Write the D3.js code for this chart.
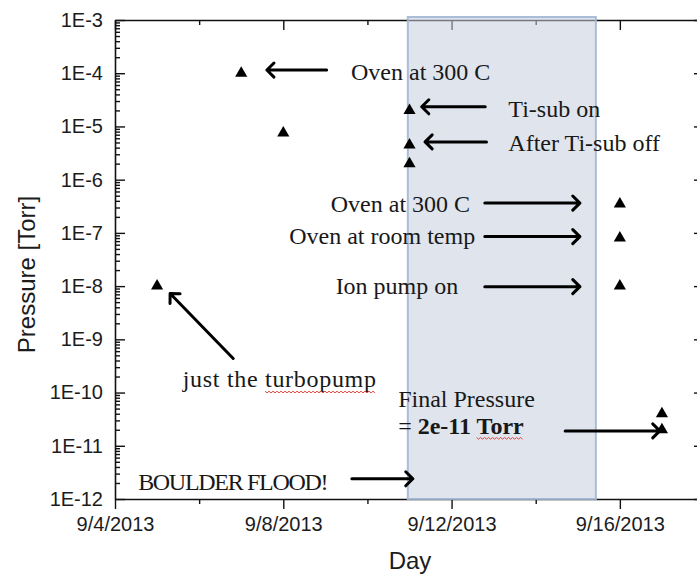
<!DOCTYPE html>
<html>
<head>
<meta charset="utf-8">
<script src="https://cdn.jsdelivr.net/npm/d3@7"></script>
<style>
  body { margin: 0; background: #fff; }
  svg { display: block; }
</style>
</head>
<body>
<svg id="chart" width="697" height="575"></svg>
<script>
// Pressure log, September 2013: day of month and reading in Torr
const measDays  = [5,    7,    8,      11,   11,     11,   16,     16,   16,   17,    17];
const pressures = [1e-8, 1e-4, 7.5e-6, 2e-5, 4.5e-6, 2e-6, 3.5e-7, 8e-8, 1e-8, 4e-11, 2e-11];

// Axis ticks
const xTickDays  = [4, 6, 8, 10, 12, 14, 16, 18];
const xLabelDays = [4, 8, 12, 16];
const yDecades   = [-12, -11, -10, -9, -8, -7, -6, -5, -4, -3];

// Bake-out window (day of month, fractional)
const bandDays = [10.96, 15.43];

// Notes: text, anchor point (day of month, log10 pressure), alignment
const noteTexts   = ["Oven at 300 C", "Ti-sub on", "After Ti-sub off", "Oven at 300 C",
                     "Oven at room temp", "Ion pump on", "just the turbopump",
                     "BOULDER FLOOD!", "Final Pressure"];
const noteDays    = [9.61, 13.35, 13.35, 12.44, 12.56, 12.16, 5.61, 4.55, 10.73];
const noteExps    = [-4.13, -4.82, -5.47, -6.60, -7.20, -8.15, -9.90, -11.83, -10.28];
const noteAnchors = ["start", "start", "start", "end", "end", "end", "start", "start", "start"];

// Arrows: tail and tip (day of month, log10 pressure)
const arrowFrom = [[9.03, -3.94], [12.80, -4.63], [12.83, -5.29], [12.79, -6.44], [12.79, -7.07],
                   [12.79, -8.01], [6.81, -9.36], [9.63, -11.62], [14.70, -10.72]];
const arrowTo   = [[7.61, -3.94], [11.29, -4.63], [11.37, -5.29], [15.05, -6.44], [15.05, -7.07],
                   [15.05, -8.01], [5.31, -8.14], [11.08, -11.62], [16.95, -10.72]];

const svg = d3.select("#chart");
const plotLeft = 115, plotTop = 20, plotRight = 704, plotBottom = 499;

const dayToDate = d => new Date(Date.UTC(2013, 8, 1) + (d - 1) * 864e5);

const x = d3.scaleUtc()
  .domain([dayToDate(4), dayToDate(18)])
  .range([plotLeft, plotRight]);
const y = d3.scaleLog()
  .domain([1e-12, 1e-3])
  .range([plotBottom, plotTop]);

const px = d => x(dayToDate(d));
const py = e => y(Math.pow(10, e));

const axisColor = "#111";
const labelFont = "'Liberation Sans', Arial, Helvetica, sans-serif";
const noteFont = "'Liberation Serif', 'Times New Roman', serif";

const majorY = yDecades.map(e => Math.pow(10, e));
const minorY = [];
yDecades.slice(0, -1).forEach(e => {
  for (let m = 2; m <= 9; m++) minorY.push(m * Math.pow(10, e));
});
const xMajor = xLabelDays.map(dayToDate);
const xMinor = xTickDays.filter(d => !xLabelDays.includes(d)).map(dayToDate);

function styleAxis(g, keepDomain) {
  g.selectAll("line").attr("stroke", axisColor).attr("stroke-width", 1.4);
  g.select(".domain").attr("stroke", axisColor).attr("stroke-width", 1.6);
  if (!keepDomain) g.select(".domain").remove();
  g.selectAll("text")
    .attr("fill", "#1c1c1c")
    .style("font-family", labelFont)
    .style("font-size", "20px");
}

// Left axis: decades labelled 1E-n, minor ticks at 2..9
svg.append("g").attr("transform", `translate(${plotLeft},0)`)
  .call(d3.axisLeft(y).tickValues(minorY).tickSize(-5).tickFormat(""))
  .call(g => styleAxis(g, false));
svg.append("g").attr("transform", `translate(${plotLeft},0)`)
  .call(d3.axisLeft(y).tickValues(majorY).tickSizeInner(-10).tickSizeOuter(0).tickPadding(12)
        .tickFormat(v => "1E" + Math.round(Math.log10(v))))
  .call(g => styleAxis(g, true));

// Right axis: ticks only
svg.append("g").attr("transform", `translate(${plotRight},0)`)
  .call(d3.axisRight(y).tickValues(minorY).tickSize(-5).tickFormat(""))
  .call(g => styleAxis(g, false));
svg.append("g").attr("transform", `translate(${plotRight},0)`)
  .call(d3.axisRight(y).tickValues(majorY).tickSizeInner(-10).tickSizeOuter(0).tickFormat(""))
  .call(g => styleAxis(g, true));

// Bottom axis: outward ticks, dates every four days
svg.append("g").attr("transform", `translate(0,${plotBottom})`)
  .call(d3.axisBottom(x).tickValues(xMinor).tickSize(5).tickFormat(""))
  .call(g => styleAxis(g, false));
svg.append("g").attr("transform", `translate(0,${plotBottom})`)
  .call(d3.axisBottom(x).tickValues(xMajor).tickSizeInner(10).tickSizeOuter(0).tickPadding(8)
        .tickFormat(d3.utcFormat("%-m/%-d/%Y")))
  .call(g => styleAxis(g, true));

// Top axis: inward ticks only
svg.append("g").attr("transform", `translate(0,${plotTop})`)
  .call(d3.axisTop(x).tickValues(xMinor).tickSize(-5).tickFormat(""))
  .call(g => styleAxis(g, false));
svg.append("g").attr("transform", `translate(0,${plotTop})`)
  .call(d3.axisTop(x).tickValues(xMajor).tickSizeInner(-10).tickSizeOuter(0).tickFormat(""))
  .call(g => styleAxis(g, true));

// Axis titles
svg.append("text")
  .attr("transform", `translate(35,${(plotTop + plotBottom) / 2 + 15}) rotate(-90)`)
  .attr("text-anchor", "middle")
  .attr("fill", "#1c1c1c")
  .style("font-family", labelFont)
  .style("font-size", "24px")
  .text("Pressure [Torr]");
svg.append("text")
  .attr("x", 410).attr("y", 569)
  .attr("text-anchor", "middle")
  .attr("fill", "#1c1c1c")
  .style("font-family", labelFont)
  .style("font-size", "24px")
  .text("Day");

// Shaded bake-out window over the frame
svg.append("rect")
  .attr("x", px(bandDays[0]))
  .attr("y", plotTop - 3)
  .attr("width", px(bandDays[1]) - px(bandDays[0]))
  .attr("height", plotBottom - plotTop + 3)
  .attr("fill", "rgb(196,205,222)")
  .attr("fill-opacity", 0.55)
  .attr("stroke", "#a3b7d3")
  .attr("stroke-opacity", 0.9)
  .attr("stroke-width", 2);

// Measurements
svg.append("g").selectAll("path")
  .data(measDays.map((d, i) => [d, pressures[i]]))
  .join("path")
  .attr("transform", d => `translate(${px(d[0])},${y(d[1])})`)
  .attr("d", d3.symbol(d3.symbolTriangle, 64))
  .attr("fill", "#000");

// Arrows
function arrow(g, x1, y1, x2, y2) {
  const ang = Math.atan2(y2 - y1, x2 - x1);
  const L = 10, spread = 0.78;
  const p = d3.path();
  p.moveTo(x1, y1); p.lineTo(x2, y2);
  p.moveTo(x2 - L * Math.cos(ang - spread), y2 - L * Math.sin(ang - spread));
  p.lineTo(x2, y2);
  p.lineTo(x2 - L * Math.cos(ang + spread), y2 - L * Math.sin(ang + spread));
  g.append("path").attr("d", p.toString())
    .attr("fill", "none").attr("stroke", "#000")
    .attr("stroke-width", 3)
    .attr("stroke-linecap", "round").attr("stroke-linejoin", "round");
}
const arrowG = svg.append("g");
arrowFrom.forEach((f, i) => {
  const t = arrowTo[i];
  arrow(arrowG, px(f[0]), py(f[1]), px(t[0]), py(t[1]));
});

// Notes
const noteG = svg.append("g")
  .attr("fill", "#181818")
  .style("font-family", noteFont)
  .style("font-size", "24px");
const notes = noteTexts.map((t, i) =>
  noteG.append("text")
    .attr("x", px(noteDays[i])).attr("y", py(noteExps[i]))
    .attr("text-anchor", noteAnchors[i])
    .attr("letter-spacing", t === "BOULDER FLOOD!" ? "-1.3px"
                          : t === "just the turbopump" ? "0.7px" : null)
    .text(t));

// Final pressure value, second line
const finalLine = noteG.append("text")
  .attr("x", px(10.73)).attr("y", py(-10.77));
finalLine.append("tspan").text("= ");
finalLine.append("tspan").attr("font-weight", "bold").text("2e-11 Torr");

// Red wavy spell-check underline under a word range of a text node
function squiggle(textSel, from, len) {
  const node = textSel.node();
  const x0 = node.getStartPositionOfChar(from).x;
  const x1 = node.getEndPositionOfChar(from + len - 1).x;
  const yb = node.getStartPositionOfChar(from).y + 4;
  const p = d3.path();
  p.moveTo(x0, yb);
  let k = 0;
  for (let xx = x0 + 2; xx <= x1; xx += 2, k++) p.lineTo(xx, yb + (k % 2 ? 0 : 1.6));
  svg.append("path").attr("d", p.toString())
    .attr("fill", "none").attr("stroke", "#e0463c").attr("stroke-width", 1);
}
squiggle(notes[6], "just the ".length, "turbopump".length);
squiggle(finalLine, "= 2e-11 ".length, "Torr".length);
</script>
</body>
</html>
